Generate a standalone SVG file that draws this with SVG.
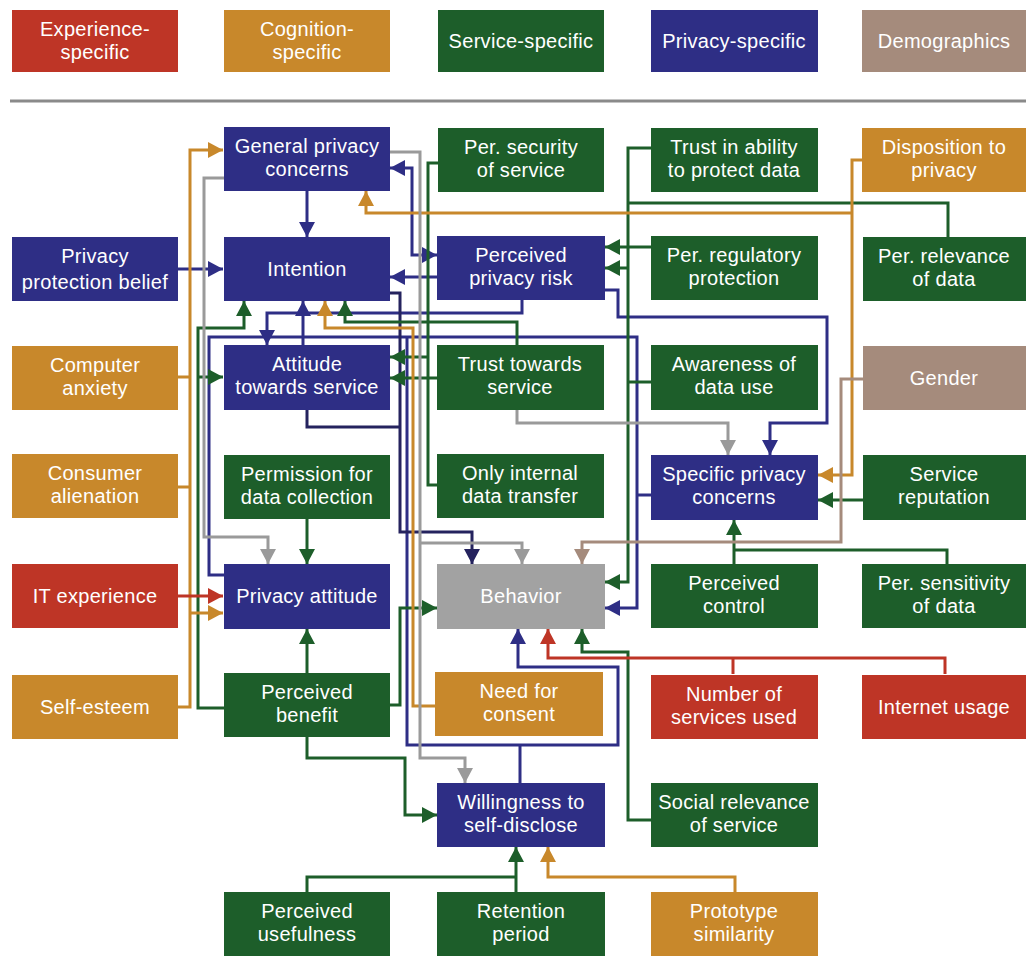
<svg xmlns="http://www.w3.org/2000/svg" width="1026" height="956" viewBox="0 0 1026 956">
<style>
.red{fill:#be3526}.org{fill:#c8882b}.grn{fill:#1d5e2a}.blu{fill:#2e2e85}.tau{fill:#a58b7c}.gry{fill:#a2a2a2}
text{font-family:"Liberation Sans",Arial,sans-serif;font-size:20px;fill:#fff;text-anchor:middle;letter-spacing:0.3px}
.c path{fill:none;stroke-width:3;stroke-linejoin:miter}
.lb{stroke:#2e2e85}.ln{stroke:#25235e}.lg{stroke:#1d5e2a}.lo{stroke:#c8882b}.ly{stroke:#9a9a9a}.lr{stroke:#be3526}.lt{stroke:#a58b7c}
</style>
<defs>
<marker id="ab" markerUnits="userSpaceOnUse" markerWidth="15" markerHeight="16" viewBox="0 0 15 16" refX="15" refY="8" orient="auto-start-reverse"><path d="M0,0L15,8L0,16z" fill="#2e2e85"/></marker>
<marker id="an" markerUnits="userSpaceOnUse" markerWidth="15" markerHeight="16" viewBox="0 0 15 16" refX="15" refY="8" orient="auto"><path d="M0,0L15,8L0,16z" fill="#25235e"/></marker>
<marker id="ag" markerUnits="userSpaceOnUse" markerWidth="15" markerHeight="16" viewBox="0 0 15 16" refX="15" refY="8" orient="auto"><path d="M0,0L15,8L0,16z" fill="#1d5e2a"/></marker>
<marker id="ao" markerUnits="userSpaceOnUse" markerWidth="15" markerHeight="16" viewBox="0 0 15 16" refX="15" refY="8" orient="auto"><path d="M0,0L15,8L0,16z" fill="#c8882b"/></marker>
<marker id="ay" markerUnits="userSpaceOnUse" markerWidth="15" markerHeight="16" viewBox="0 0 15 16" refX="15" refY="8" orient="auto"><path d="M0,0L15,8L0,16z" fill="#9a9a9a"/></marker>
<marker id="ar" markerUnits="userSpaceOnUse" markerWidth="15" markerHeight="16" viewBox="0 0 15 16" refX="15" refY="8" orient="auto"><path d="M0,0L15,8L0,16z" fill="#be3526"/></marker>
<marker id="at" markerUnits="userSpaceOnUse" markerWidth="15" markerHeight="16" viewBox="0 0 15 16" refX="15" refY="8" orient="auto"><path d="M0,0L15,8L0,16z" fill="#a58b7c"/></marker>
</defs>
<rect width="1026" height="956" fill="#fff"/>

<g id="legend">
<g id="leg-experience"><rect class="red" x="12" y="10" width="166" height="62"/><text><tspan x="95" y="36">Experience-</tspan><tspan x="95" y="59">specific</tspan></text></g>
<g id="leg-cognition"><rect class="org" x="224" y="10" width="166" height="62"/><text><tspan x="307" y="36">Cognition-</tspan><tspan x="307" y="59">specific</tspan></text></g>
<g id="leg-service"><rect class="grn" x="438" y="10" width="166" height="62"/><text x="521" y="48">Service-specific</text></g>
<g id="leg-privacy"><rect class="blu" x="651" y="10" width="167" height="62"/><text x="734" y="48">Privacy-specific</text></g>
<g id="leg-demographics"><rect class="tau" x="862" y="10" width="164" height="62"/><text x="944" y="48">Demographics</text></g>
<path d="M10,101H1026" stroke="#8a8a8a" stroke-width="3"/>
</g>

<g class="c" id="connectors">
<path class="lb" d="M178,269H223" marker-end="url(#ab)"/>
<path class="lb" d="M307,191V237" marker-end="url(#ab)"/>
<path class="lb" d="M303,345V301" marker-end="url(#ab)"/>
<path class="lb" d="M522,300V313H267V345" marker-end="url(#ab)"/>
<path class="lb" d="M390,168H412V255H437" marker-start="url(#ab)" marker-end="url(#ab)"/>
<path class="lb" d="M437,277H390" marker-end="url(#ab)"/>
<path class="lb" d="M605,290H618V317H827V423H770V455" marker-end="url(#ab)"/>
<path class="lb" d="M224,575H209V337H637V608H605" marker-end="url(#ab)"/>
<path class="lb" d="M637,495H651"/>
<path class="lb" d="M407,337V745H618V667H518V629" marker-end="url(#ab)"/>
<path class="lb" d="M520,783V745"/>
<path class="ln" d="M390,293H400V532H472V564" marker-end="url(#an)"/>
<path class="ln" d="M307,410V427H400"/>
<path class="lg" d="M224,708H198V328H244V301" marker-end="url(#ag)"/>
<path class="lg" d="M198,377H223" marker-end="url(#ag)"/>
<path class="lg" d="M307,519V564" marker-end="url(#ag)"/>
<path class="lg" d="M307,673V629" marker-end="url(#ag)"/>
<path class="lg" d="M390,705H400V608H437" marker-end="url(#ag)"/>
<path class="lg" d="M307,737V758H405V815H437" marker-end="url(#ag)"/>
<path class="lg" d="M438,163H428V485H437"/>
<path class="lg" d="M428,357H390" marker-end="url(#ag)"/>
<path class="lg" d="M437,378H390" marker-end="url(#ag)"/>
<path class="lg" d="M517,345V322H345V301" marker-end="url(#ag)"/>
<path class="lg" d="M651,148H628V582H605" marker-end="url(#ag)"/>
<path class="lg" d="M628,268H605" marker-end="url(#ag)"/>
<path class="lg" d="M651,382H628"/>
<path class="lg" d="M948,237V203H628"/>
<path class="lg" d="M651,247H605" marker-end="url(#ag)"/>
<path class="lg" d="M863,500H818" marker-end="url(#ag)"/>
<path class="lg" d="M947,564V550H734"/>
<path class="lg" d="M734,564V520" marker-end="url(#ag)"/>
<path class="lg" d="M651,820H628V652H582V629" marker-end="url(#ag)"/>
<path class="lg" d="M307,892V877H516"/>
<path class="lg" d="M516,892V847" marker-end="url(#ag)"/>
<path class="lo" d="M178,707H190V150H223" marker-end="url(#ao)"/>
<path class="lo" d="M178,377H190M178,487H190"/>
<path class="lo" d="M190,613H223" marker-end="url(#ao)"/>
<path class="lo" d="M437,706H413V328H325V301" marker-end="url(#ao)"/>
<path class="lo" d="M862,160H852V475H818" marker-end="url(#ao)"/>
<path class="lo" d="M852,213H366V191" marker-end="url(#ao)"/>
<path class="lo" d="M735,892V877H548V847" marker-end="url(#ao)"/>
<path class="ly" d="M224,178H204V537H268V564" marker-end="url(#ay)"/>
<path class="ly" d="M390,152H420V758H465V783" marker-end="url(#ay)"/>
<path class="ly" d="M420,543H522V564" marker-end="url(#ay)"/>
<path class="ly" d="M517,410V423H728V455" marker-end="url(#ay)"/>
<path class="lr" d="M178,596H223" marker-end="url(#ar)"/>
<path class="lr" d="M733,674V658"/>
<path class="lr" d="M945,674V658H548V629" marker-end="url(#ar)"/>
<path class="lt" d="M863,379H841V542H582V564" marker-end="url(#at)"/>
</g>

<g id="gpc"><rect class="blu" x="224" y="127" width="166" height="64"/><text><tspan x="307" y="153">General privacy</tspan><tspan x="307" y="176">concerns</tspan></text></g>
<g id="per-security"><rect class="grn" x="438" y="128" width="166" height="64"/><text><tspan x="521" y="154">Per. security</tspan><tspan x="521" y="177">of service</tspan></text></g>
<g id="trust-ability"><rect class="grn" x="651" y="128" width="167" height="64"/><text><tspan x="734" y="154">Trust in ability</tspan><tspan x="734" y="177">to protect data</tspan></text></g>
<g id="disposition"><rect class="org" x="862" y="128" width="164" height="64"/><text><tspan x="944" y="154">Disposition to</tspan><tspan x="944" y="177">privacy</tspan></text></g>

<g id="ppb"><rect class="blu" x="12" y="237" width="166" height="64"/><text><tspan x="95" y="263">Privacy</tspan><tspan x="95" y="289">protection belief</tspan></text></g>
<g id="intention"><rect class="blu" x="224" y="237" width="166" height="64"/><text x="307" y="276">Intention</text></g>
<g id="ppr"><rect class="blu" x="437" y="236" width="168" height="64"/><text><tspan x="521" y="262">Perceived</tspan><tspan x="521" y="285">privacy risk</tspan></text></g>
<g id="per-regulatory"><rect class="grn" x="651" y="236" width="167" height="64"/><text><tspan x="734" y="262">Per. regulatory</tspan><tspan x="734" y="285">protection</tspan></text></g>
<g id="per-relevance"><rect class="grn" x="863" y="237" width="163" height="64"/><text><tspan x="944" y="263">Per. relevance</tspan><tspan x="944" y="286">of data</tspan></text></g>

<g id="computer-anxiety"><rect class="org" x="12" y="346" width="166" height="64"/><text><tspan x="95" y="372">Computer</tspan><tspan x="95" y="395">anxiety</tspan></text></g>
<g id="attitude"><rect class="blu" x="224" y="345" width="166" height="65"/><text><tspan x="307" y="371">Attitude</tspan><tspan x="307" y="394">towards service</tspan></text></g>
<g id="trust-towards"><rect class="grn" x="437" y="345" width="167" height="65"/><text><tspan x="520" y="371">Trust towards</tspan><tspan x="520" y="394">service</tspan></text></g>
<g id="awareness"><rect class="grn" x="651" y="345" width="167" height="65"/><text><tspan x="734" y="371">Awareness of</tspan><tspan x="734" y="394">data use</tspan></text></g>
<g id="gender"><rect class="tau" x="863" y="346" width="163" height="64"/><text x="944" y="385">Gender</text></g>

<g id="consumer-alienation"><rect class="org" x="12" y="454" width="166" height="64"/><text><tspan x="95" y="480">Consumer</tspan><tspan x="95" y="503">alienation</tspan></text></g>
<g id="permission"><rect class="grn" x="224" y="455" width="166" height="64"/><text><tspan x="307" y="481">Permission for</tspan><tspan x="307" y="504">data collection</tspan></text></g>
<g id="only-internal"><rect class="grn" x="437" y="454" width="167" height="64"/><text><tspan x="520" y="480">Only internal</tspan><tspan x="520" y="503">data transfer</tspan></text></g>
<g id="spc"><rect class="blu" x="651" y="455" width="167" height="65"/><text><tspan x="734" y="481">Specific privacy</tspan><tspan x="734" y="504">concerns</tspan></text></g>
<g id="service-reputation"><rect class="grn" x="863" y="455" width="163" height="65"/><text><tspan x="944" y="481">Service</tspan><tspan x="944" y="504">reputation</tspan></text></g>

<g id="it-experience"><rect class="red" x="12" y="564" width="166" height="64"/><text x="95" y="603">IT experience</text></g>
<g id="privacy-attitude"><rect class="blu" x="224" y="564" width="166" height="65"/><text x="307" y="603">Privacy attitude</text></g>
<g id="behavior"><rect class="gry" x="437" y="564" width="168" height="65"/><text x="521" y="603">Behavior</text></g>
<g id="perceived-control"><rect class="grn" x="651" y="564" width="167" height="64"/><text><tspan x="734" y="590">Perceived</tspan><tspan x="734" y="613">control</tspan></text></g>
<g id="per-sensitivity"><rect class="grn" x="862" y="564" width="164" height="64"/><text><tspan x="944" y="590">Per. sensitivity</tspan><tspan x="944" y="613">of data</tspan></text></g>

<g id="self-esteem"><rect class="org" x="12" y="675" width="166" height="64"/><text x="95" y="714">Self-esteem</text></g>
<g id="perceived-benefit"><rect class="grn" x="224" y="673" width="166" height="64"/><text><tspan x="307" y="699">Perceived</tspan><tspan x="307" y="722">benefit</tspan></text></g>
<g id="need-consent"><rect class="org" x="435" y="672" width="168" height="64"/><text><tspan x="519" y="698">Need for</tspan><tspan x="519" y="721">consent</tspan></text></g>
<g id="num-services"><rect class="red" x="651" y="675" width="167" height="64"/><text><tspan x="734" y="701">Number of</tspan><tspan x="734" y="724">services used</tspan></text></g>
<g id="internet-usage"><rect class="red" x="862" y="675" width="164" height="64"/><text x="944" y="714">Internet usage</text></g>

<g id="willingness"><rect class="blu" x="437" y="783" width="168" height="64"/><text><tspan x="521" y="809">Willingness to</tspan><tspan x="521" y="832">self-disclose</tspan></text></g>
<g id="social-relevance"><rect class="grn" x="651" y="783" width="167" height="64"/><text><tspan x="734" y="809">Social relevance</tspan><tspan x="734" y="832">of service</tspan></text></g>

<g id="perceived-usefulness"><rect class="grn" x="224" y="892" width="166" height="64"/><text><tspan x="307" y="918">Perceived</tspan><tspan x="307" y="941">usefulness</tspan></text></g>
<g id="retention"><rect class="grn" x="437" y="892" width="168" height="64"/><text><tspan x="521" y="918">Retention</tspan><tspan x="521" y="941">period</tspan></text></g>
<g id="prototype"><rect class="org" x="651" y="892" width="167" height="64"/><text><tspan x="734" y="918">Prototype</tspan><tspan x="734" y="941">similarity</tspan></text></g>
</svg>
